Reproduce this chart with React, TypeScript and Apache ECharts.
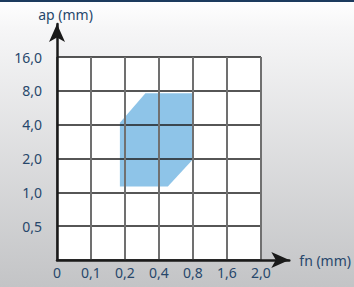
import React, { useEffect, useRef } from 'react';
import * as echarts from 'echarts';

// Category tick labels (axes are evenly spaced, one step per tick)
const fnLabels = ['0', '0,1', '0,2', '0,4', '0,8', '1,6', '2,0'];
const apLabels = ['', '0,5', '1,0', '2,0', '4,0', '8,0', '16,0'];
// Recommended region outline, in tick-index positions (fn index, ap index)
const regionFn = [1.85, 2.6, 4.0, 4.0, 3.26, 1.85];
const regionAp = [4.06, 4.93, 4.93, 2.98, 2.17, 2.17];

const labelColor = '#27476b';
const font = 'Noto Sans';

export default function App() {
  const ref = useRef<HTMLDivElement>(null);
  useEffect(() => {
    if (!ref.current) return;
    const chart = echarts.init(ref.current, null, { renderer: 'svg' });
    const points = regionFn.map((x, i) => [x, regionAp[i]]);
    chart.setOption({
      animation: false,
      backgroundColor: {
        type: 'linear', x: 0, y: 0, x2: 0, y2: 1,
        colorStops: [
          { offset: 0, color: '#ffffff' },
          { offset: 0.1, color: '#f6f6f7' },
          { offset: 1, color: '#c3c4c6' },
        ],
      },
      graphic: [
        { type: 'rect', left: 0, top: 0, shape: { width: 354, height: 2 }, style: { fill: '#1c3b5e' } },
      ],
      grid: [
        { left: 57, top: 57, width: 204, height: 203, show: true, backgroundColor: '#ffffff', borderWidth: 0, z: -2 },
        { left: 57, top: 24, width: 236, height: 236, show: false },
      ],
      xAxis: [
        {
          type: 'value', gridIndex: 0, min: 0, max: 6, interval: 1,
          axisLine: { show: false }, axisTick: { show: false },
          splitLine: { show: true, lineStyle: { color: '#707070', width: 2 } },
          axisLabel: {
            margin: 5, color: labelColor, fontSize: 14, fontFamily: font,
            formatter: (v: number) => fnLabels[Math.round(v)] ?? '',
          },
        },
        {
          type: 'value', gridIndex: 1, min: 0, max: 1,
          axisLine: { show: true, symbol: ['none', 'arrow'], symbolSize: [12, 18], lineStyle: { color: '#1a1a1a', width: 2.5 } },
          axisTick: { show: false }, axisLabel: { show: false }, splitLine: { show: false },
          name: 'fn (mm)', nameLocation: 'end', nameGap: 10,
          nameTextStyle: { color: labelColor, fontSize: 14, fontFamily: font, verticalAlign: 'middle', padding: [0, 0, 4, 0] },
        },
      ],
      yAxis: [
        {
          type: 'value', gridIndex: 0, min: 0, max: 6, interval: 1,
          axisLine: { show: false }, axisTick: { show: false },
          splitLine: { show: true, lineStyle: { color: '#1e1e1e', width: 1.5 } },
          axisLabel: {
            margin: 15, color: labelColor, fontSize: 14, fontFamily: font,
            formatter: (v: number) => apLabels[Math.round(v)] ?? '',
          },
        },
        {
          type: 'value', gridIndex: 1, min: 0, max: 1,
          axisLine: { show: true, symbol: ['none', 'arrow'], symbolSize: [12, 18], lineStyle: { color: '#1a1a1a', width: 2.5 } },
          axisTick: { show: false }, axisLabel: { show: false }, splitLine: { show: false },
          name: 'ap (mm)', nameLocation: 'end', nameGap: 3,
          nameTextStyle: { color: labelColor, fontSize: 14, fontFamily: font, align: 'center', padding: [0, 0, 0, 17] },
        },
      ],
      series: [
        {
          type: 'custom',
          xAxisIndex: 0, yAxisIndex: 0,
          z: -1,
          data: [0],
          renderItem: (params: any, api: any) => ({
            type: 'polygon',
            shape: { points: points.map((p) => api.coord(p)) },
            style: { fill: '#8ec4e8' },
          }),
        },
      ],
    });
    return () => chart.dispose();
  }, []);
  return <div ref={ref} style={{ position: 'absolute', left: 0, top: 0, width: 354, height: 287 }} />;
}
